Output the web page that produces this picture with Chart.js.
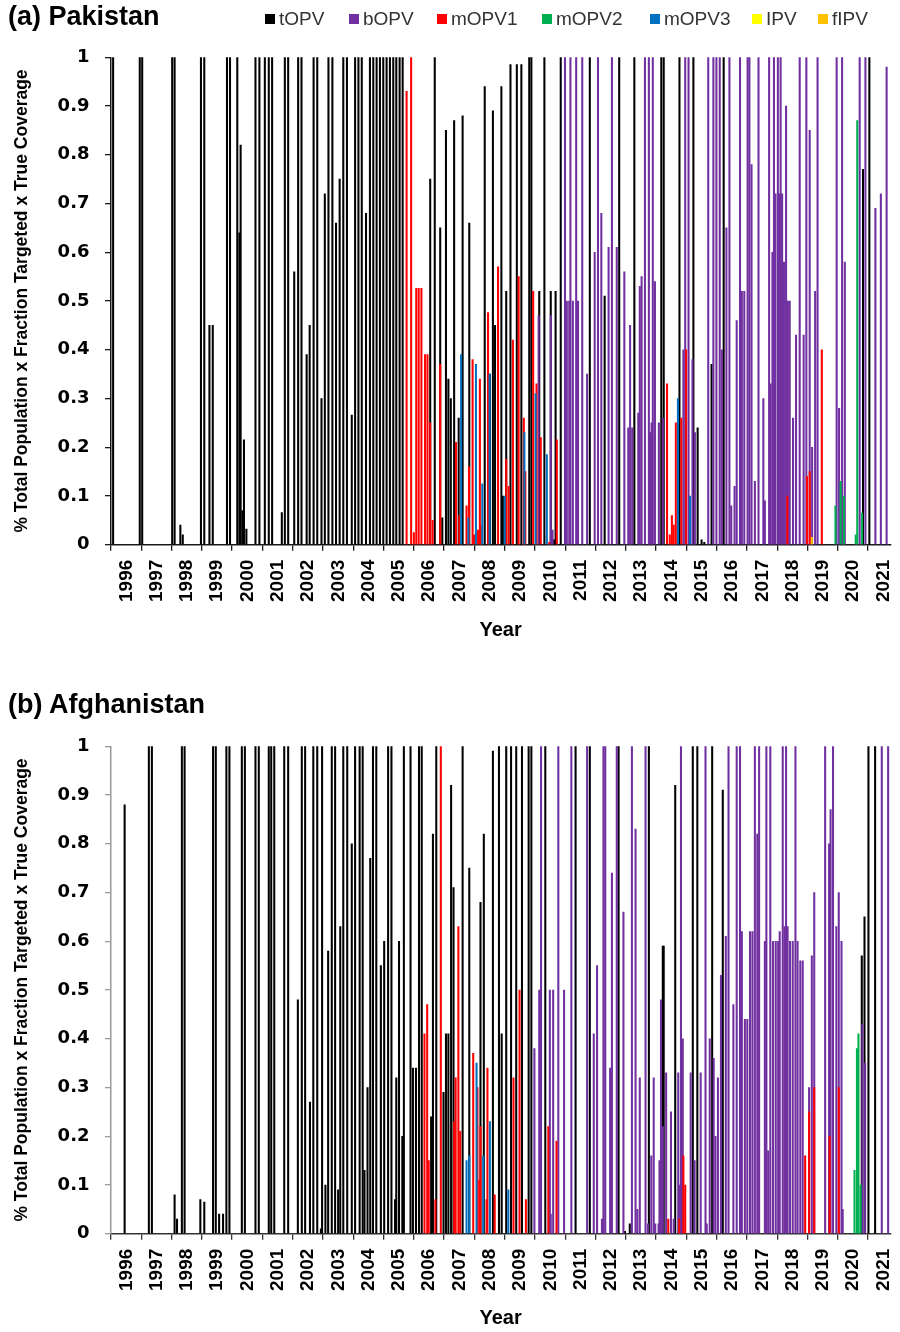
<!DOCTYPE html>
<html><head><meta charset="utf-8">
<script src="https://cdn.jsdelivr.net/npm/chart.js@4.4.1/dist/chart.umd.min.js"></script>
<style>
html,body{margin:0;padding:0;background:#fff;}
body{width:900px;height:1332px;position:relative;overflow:hidden;font-family:"Liberation Sans",Arial,sans-serif;}
canvas{position:absolute;left:0;}
.title{position:absolute;left:8px;font-weight:bold;font-size:27px;color:#000;line-height:27px;z-index:2;}
.leg{position:absolute;top:9px;height:20px;display:flex;align-items:center;font-size:19px;color:#333;white-space:nowrap;z-index:2;}
.leg i{display:inline-block;width:10px;height:10px;margin-right:4px;}
</style></head>
<body>
<canvas id="c1" width="900" height="660" style="top:0"></canvas>
<canvas id="c2" width="900" height="643" style="top:689px"></canvas>
<div class="title" style="top:3px">(a) Pakistan</div>
<div class="title" style="top:691px">(b) Afghanistan</div>
<div id="legend"></div>
<script>
// ---------- categories / series ----------
const seriesNames = ['tOPV','bOPV','mOPV1','mOPV2','mOPV3','IPV','fIPV'];
const seriesColors = ['#000000','#7030A0','#FF0000','#00B050','#0070C0','#FFFF00','#FFC000'];
const yearTicks = [1996,1997,1998,1999,2000,2001,2002,2003,2004,2005,2006,2007,2008,2009,2010,2011,2012,2013,2014,2015,2016,2017,2018,2019,2020,2021];
const yTicks = [0,0.1,0.2,0.3,0.4,0.5,0.6,0.7,0.8,0.9,1];

// ---------- Pakistan: [time (decimal year), value] ----------
const pkTOPV = [[1996.07,1],[1996.95,1],[1997.03,1],[1998.02,1],[1998.1,1],[1998.29,0.04],[1998.37,0.02],[1998.97,1],[1999.08,1],[1999.25,0.45],[1999.36,0.45],[1999.83,1],[1999.93,1],[2000.17,1],[2000.24,0.64],[2000.28,0.82],[2000.34,0.07],[2000.39,0.215],[2000.47,0.032],[2000.77,1],[2000.9,1],[2001.08,1],[2001.21,1],[2001.32,1],[2001.64,0.066],[2001.74,1],[2001.85,1],[2002.05,0.56],[2002.18,1],[2002.29,1],[2002.46,0.39],[2002.56,0.45],[2002.69,1],[2002.81,1],[2002.95,0.3],[2003.06,0.72],[2003.18,1],[2003.31,1],[2003.43,0.66],[2003.55,0.75],[2003.67,1],[2003.79,1],[2003.95,0.266],[2004.06,1],[2004.17,1],[2004.28,1],[2004.42,0.68],[2004.55,1],[2004.66,1],[2004.77,1],[2004.88,1],[2004.99,1],[2005.1,1],[2005.21,1],[2005.32,1],[2005.42,1],[2005.53,1],[2005.63,1],[2006.54,0.75],[2006.69,1],[2006.87,0.65],[2006.94,0.055],[2007.06,0.85],[2007.14,0.34],[2007.22,0.3],[2007.33,0.87],[2007.48,0.26],[2007.61,0.88],[2007.83,0.66],[2008.34,0.94],[2008.51,0.35],[2008.61,0.89],[2008.68,0.45],[2008.89,0.94],[2008.94,0.1],[2009.05,0.52],[2009.19,0.985],[2009.4,0.985],[2009.55,0.985],[2009.81,1],[2009.88,1],[2010.14,0.52],[2010.31,1],[2010.52,0.52],[2010.63,0.01],[2010.68,0.52],[2010.85,1],[2011.81,1],[2012.3,0.51],[2012.78,1],[2013.28,1],[2014.17,1],[2014.25,1],[2014.77,1],[2015.23,1],[2015.37,0.24],[2015.5,0.01],[2015.59,0.005],[2015.83,0.37],[2016.23,1],[2020.83,0.77],[2021.04,1]];
const pkBOPV = [[2010.12,0.47],[2010.52,0.47],[2010.58,0.03],[2010.99,1],[2011.05,0.5],[2011.13,0.5],[2011.17,1],[2011.25,0.5],[2011.36,1],[2011.42,0.5],[2011.56,1],[2011.72,0.35],[2011.97,0.6],[2012.08,1],[2012.19,0.68],[2012.43,0.61],[2012.54,1],[2012.7,0.61],[2012.95,0.56],[2013.08,0.24],[2013.14,0.45],[2013.21,0.24],[2013.41,0.27],[2013.46,0.53],[2013.52,0.55],[2013.63,1],[2013.76,1],[2013.8,0.23],[2013.85,0.25],[2013.89,1],[2013.96,0.54],[2014.09,0.25],[2014.22,0.26],[2014.9,0.4],[2014.96,1],[2015.07,1],[2015.2,0.38],[2015.28,0.23],[2015.72,1],[2015.89,1],[2015.99,1],[2016.1,1],[2016.17,0.4],[2016.32,0.65],[2016.42,1],[2016.48,0.08],[2016.59,0.12],[2016.66,0.46],[2016.77,1],[2016.83,0.52],[2016.91,0.52],[2017.02,1],[2017.08,1],[2017.15,0.78],[2017.26,0.13],[2017.38,1],[2017.54,0.3],[2017.59,0.09],[2017.73,1],[2017.78,0.33],[2017.84,0.6],[2017.89,1],[2017.94,0.72],[2018.02,1],[2018.06,0.72],[2018.11,1],[2018.16,0.72],[2018.22,0.58],[2018.29,0.9],[2018.35,0.5],[2018.41,0.5],[2018.52,0.26],[2018.62,0.43],[2018.74,1],[2018.87,0.43],[2018.96,1],[2019.07,0.85],[2019.15,0.2],[2019.25,0.52],[2019.33,1],[2019.96,1],[2020.04,0.28],[2020.14,1],[2020.23,0.58],[2020.72,1],[2020.91,1],[2021.24,0.69],[2021.42,0.72],[2021.61,0.98]];
const pkMOPV1 = [[2005.76,0.93],[2005.91,1],[2006.0,0.025],[2006.08,0.526],[2006.16,0.526],[2006.25,0.526],[2006.37,0.39],[2006.45,0.39],[2006.54,0.25],[2006.62,0.05],[2006.87,0.37],[2007.39,0.21],[2007.5,0.06],[2007.74,0.08],[2007.82,0.16],[2007.94,0.38],[2007.99,0.02],[2008.12,0.03],[2008.18,0.34],[2008.21,0.04],[2008.45,0.476],[2008.78,0.57],[2009.05,0.175],[2009.13,0.12],[2009.27,0.42],[2009.46,0.55],[2009.63,0.26],[2009.68,0.15],[2009.94,0.52],[2010.05,0.33],[2010.19,0.22],[2010.47,0.005],[2010.72,0.215],[2014.36,0.33],[2014.45,0.02],[2014.52,0.06],[2014.58,0.04],[2014.65,0.25],[2014.83,0.26],[2014.99,0.4],[2018.33,0.1],[2018.98,0.14],[2019.07,0.15],[2019.47,0.4]];
const pkMOPV2 = [[2019.92,0.08],[2020.09,0.13],[2020.2,0.1],[2020.59,0.02],[2020.64,0.87],[2020.8,0.065]];
const pkMOPV3 = [[2007.56,0.39],[2007.8,0.055],[2008.05,0.37],[2008.26,0.125],[2008.5,0.35],[2009.0,0.1],[2009.65,0.23],[2010.02,0.31],[2010.39,0.185],[2014.72,0.3],[2015.12,0.1]];
const pkIPV = [];
const pkFIPV = [[2019.14,0.015]];

// ---------- Afghanistan ----------
const afTOPV = [[1996.45,0.88],[1997.25,1],[1997.35,1],[1998.1,0.08],[1998.18,0.03],[1998.34,1],[1998.43,1],[1998.95,0.07],[1999.08,0.065],[1999.37,1],[1999.46,1],[1999.57,0.04],[1999.7,0.04],[1999.81,1],[1999.91,1],[2000.32,1],[2000.42,1],[2000.77,1],[2000.88,1],[2001.21,1],[2001.29,1],[2001.39,1],[2001.72,1],[2001.85,1],[2002.17,0.48],[2002.3,1],[2002.41,1],[2002.57,0.27],[2002.68,1],[2002.81,1],[2002.93,0.01],[2002.97,1],[2003.08,0.1],[2003.17,0.58],[2003.29,1],[2003.4,1],[2003.5,0.09],[2003.57,0.63],[2003.67,1],[2003.8,1],[2003.95,0.8],[2004.06,1],[2004.21,1],[2004.31,1],[2004.37,0.13],[2004.47,0.3],[2004.56,0.77],[2004.65,1],[2004.76,1],[2004.91,0.55],[2005.02,0.6],[2005.15,1],[2005.26,1],[2005.38,0.07],[2005.42,0.32],[2005.51,0.6],[2005.62,0.2],[2005.67,1],[2005.89,1],[2005.97,0.34],[2006.07,0.34],[2006.17,1],[2006.26,1],[2006.57,0.24],[2006.63,0.82],[2006.74,1],[2006.98,0.29],[2007.06,0.41],[2007.14,0.41],[2007.23,0.92],[2007.31,0.71],[2007.61,1],[2007.83,0.75],[2008.2,0.68],[2008.31,0.82],[2008.61,0.99],[2008.81,1],[2008.9,0.41],[2009.05,1],[2009.21,1],[2009.38,1],[2009.57,1],[2009.79,1],[2009.88,1],[2010.34,1],[2011.34,1],[2011.81,1],[2012.76,1],[2012.97,0.005],[2013.13,0.02],[2013.76,1],[2014.22,0.59],[2014.25,0.59],[2014.63,0.92],[2015.21,1],[2015.36,1],[2015.85,1],[2016.2,0.91],[2020.79,0.57],[2020.88,0.65],[2021.01,1],[2021.23,1]];
const afBOPV = [[2009.98,0.38],[2010.14,0.5],[2010.2,1],[2010.49,0.5],[2010.52,0.04],[2010.6,0.5],[2010.77,1],[2010.96,0.5],[2011.2,1],[2011.72,1],[2011.94,0.41],[2012.05,0.55],[2012.21,0.03],[2012.26,1],[2012.32,1],[2012.48,0.34],[2012.54,0.74],[2012.7,1],[2012.92,0.66],[2013.2,1],[2013.32,0.83],[2013.38,0.05],[2013.46,0.32],[2013.65,1],[2013.73,0.02],[2013.84,0.16],[2013.92,0.32],[2013.97,0.02],[2014.08,0.02],[2014.11,0.15],[2014.16,0.48],[2014.22,0.22],[2014.33,0.33],[2014.49,0.25],[2014.58,0.03],[2014.73,0.33],[2014.78,0.1],[2014.82,1],[2014.88,0.4],[2015.14,0.33],[2015.27,0.15],[2015.47,0.33],[2015.63,1],[2015.67,0.02],[2015.77,0.4],[2015.9,0.36],[2015.96,0.2],[2016.04,0.32],[2016.14,0.53],[2016.3,0.61],[2016.39,1],[2016.55,0.47],[2016.66,1],[2016.77,1],[2016.83,0.62],[2016.93,0.44],[2017.01,0.44],[2017.1,0.62],[2017.18,0.62],[2017.26,1],[2017.34,0.82],[2017.4,1],[2017.59,0.6],[2017.64,1],[2017.7,0.17],[2017.77,1],[2017.86,0.6],[2017.95,0.6],[2018.03,0.6],[2018.08,0.62],[2018.18,1],[2018.24,0.63],[2018.29,1],[2018.34,0.63],[2018.42,0.6],[2018.51,0.6],[2018.6,1],[2018.67,0.6],[2018.76,0.56],[2018.84,0.56],[2019.05,0.3],[2019.14,0.57],[2019.22,0.7],[2019.58,1],[2019.71,0.8],[2019.76,0.87],[2019.84,1],[2019.95,0.63],[2020.03,0.7],[2020.12,0.6],[2020.16,0.05],[2020.81,0.43],[2020.9,0.35],[2021.45,1],[2021.66,1]];
const afMOPV1 = [[2006.35,0.41],[2006.44,0.47],[2006.49,0.15],[2006.71,0.07],[2006.89,1],[2007.33,0.23],[2007.38,0.32],[2007.47,0.63],[2007.53,0.21],[2007.96,0.37],[2008.1,0.3],[2008.16,0.11],[2008.2,0.22],[2008.4,0.07],[2008.43,0.34],[2008.67,0.08],[2009.29,0.32],[2009.49,0.5],[2009.7,0.07],[2010.44,0.22],[2010.71,0.19],[2014.4,0.03],[2014.76,0.03],[2014.9,0.16],[2014.96,0.1],[2018.92,0.16],[2019.05,0.25],[2019.22,0.3],[2019.73,0.2],[2020.03,0.3]];
const afMOPV2 = [[2020.55,0.13],[2020.63,0.38],[2020.68,0.41],[2020.75,0.1]];
const afMOPV3 = [[2007.74,0.15],[2007.83,0.16],[2008.07,0.35],[2008.29,0.16],[2008.51,0.23],[2009.12,0.09]];
const afIPV = [];
const afFIPV = [];

// ---------- legend (HTML) ----------
const legendX = [265,349,437,542,650,752,818];
const legEl = document.getElementById('legend');
seriesNames.forEach((n,i)=>{
  const d = document.createElement('div');
  d.className = 'leg';
  d.style.left = legendX[i] + 'px';
  d.innerHTML = '<i style="background:' + seriesColors[i] + '"></i>' + n;
  legEl.appendChild(d);
});

function makeChart(id, seriesData, opt) {
  const datasets = seriesNames.map((n, i) => ({
    label: n,
    data: seriesData[i].map(p => ({x: p[0], y: p[1]})),
    backgroundColor: seriesColors[i],
    borderWidth: 0,
    barThickness: 1.4,
    grouped: false,
    order: 7 - i
  }));
  const plotTop = 57.3, plotH = 487.4;
  const H = opt.height;
  return new Chart(document.getElementById(id), {
    type: 'bar',
    data: {datasets},
    options: {
      responsive: false,
      animation: false,
      events: [],
      layout: {padding: {top: plotTop, left: 0, right: 2, bottom: 0}},
      plugins: {legend: {display: false}, tooltip: {enabled: false}, title: {display: false}},
      scales: {
        x: {
          type: 'linear', min: 1996, max: 2021.73, offset: false,
          afterBuildTicks: sc => { sc.ticks = yearTicks.map(v => ({value: v})); },
          afterFit: sc => { sc.height = H - plotTop - plotH; },
          grid: {display: true, drawOnChartArea: false, drawTicks: true, tickLength: 6, color: opt.xAxisColor, lineWidth: 1.3, offset: false},
          border: {display: true, color: opt.xAxisColor, width: 1.5},
          ticks: {autoSkip: false, maxRotation: 90, minRotation: 90, labelOffset: 15.3, padding: 9,
                  color: '#000', font: {family: '"Liberation Sans", Arial, sans-serif', size: 19, weight: 'bold'},
                  callback: v => String(v)},
          title: {display: true, text: 'Year', color: '#000',
                  font: {family: '"Liberation Sans", Arial, sans-serif', size: 20, weight: 'bold'},
                  padding: {top: 0, bottom: opt.xTitlePad}}
        },
        y: {
          min: 0, max: 1,
          afterBuildTicks: sc => { sc.ticks = yTicks.map(v => ({value: v})); },
          afterFit: sc => { sc.width = 111; },
          grid: {display: true, drawOnChartArea: false, drawTicks: true, tickLength: 6, color: opt.yAxisColor, lineWidth: 1.3},
          border: {display: true, color: opt.yAxisColor, width: 1.5},
          ticks: {padding: 15.5, color: '#000', font: {family: '"DejaVu Sans", sans-serif', size: 18, weight: 'bold'},
                  callback: v => (v === 0 ? '0' : v === 1 ? '1' : v.toFixed(1))},
          title: {display: true, text: '% Total Population x Fraction Targeted x True Coverage', color: '#000',
                  font: {family: '"Liberation Sans", Arial, sans-serif', size: 17.5, weight: 'bold'},
                  padding: {top: 11.5, bottom: 0}}
        }
      }
    }
  });
}

makeChart('c1', [pkTOPV, pkBOPV, pkMOPV1, pkMOPV2, pkMOPV3, pkIPV, pkFIPV],
  {height: 660, xTitlePad: 18, xAxisColor: '#1a1a1a', yAxisColor: '#1a1a1a'});
makeChart('c2', [afTOPV, afBOPV, afMOPV1, afMOPV2, afMOPV3, afIPV, afFIPV],
  {height: 643, xTitlePad: 1.3, xAxisColor: '#333333', yAxisColor: '#9a9a9a'});
</script>
</body></html>
